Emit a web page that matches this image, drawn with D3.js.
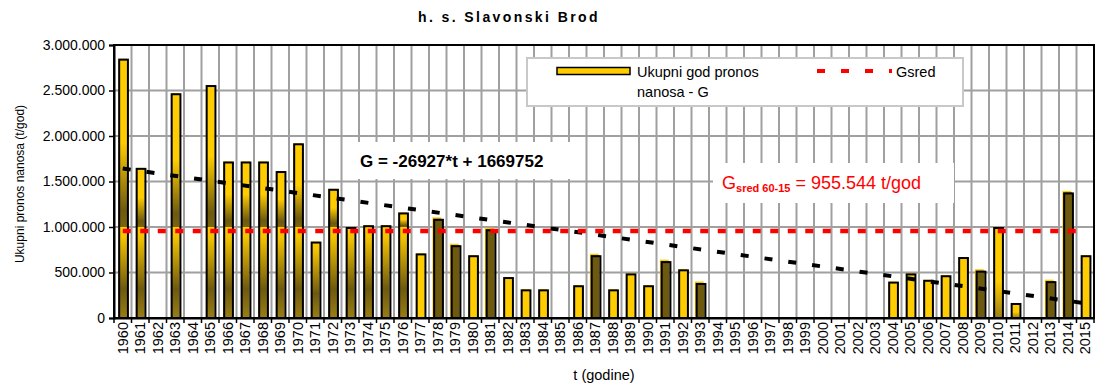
<!DOCTYPE html>
<html>
<head>
<meta charset="utf-8">
<script src="https://cdn.jsdelivr.net/npm/d3@7"></script>
<style>
  body { margin: 0; background: #fff; }
  text { font-family: "Liberation Sans", Arial, sans-serif; }
</style>
</head>
<body>
<svg id="chart" width="1097" height="383"></svg>
<script>
// Annual suspended sediment transport, gauging station Slavonski Brod
const years = ["1960","1961","1962","1963","1964","1965","1966","1967","1968","1969",
               "1970","1971","1972","1973","1974","1975","1976","1977","1978","1979",
               "1980","1981","1982","1983","1984","1985","1986","1987","1988","1989",
               "1990","1991","1992","1993","1994","1995","1996","1997","1998","1999",
               "2000","2001","2002","2003","2004","2005","2006","2007","2008","2009",
               "2010","2011","2012","2013","2014","2015"];

// t/god; null = no measurement that year
const sediment = [2850000, 1650000, null, 2470000, null, 2560000, 1720000, 1720000, 1720000, 1615000,
                  1920000, 840000, 1420000, 1000000, 1020000, 1020000, 1160000, 710000, 1090000, 800000,
                  690000, 975000, 450000, 315000, 315000, null, 360000, 690000, 315000, 490000,
                  360000, 625000, 535000, 385000, null, null, null, null, null, null,
                  null, null, null, null, 400000, 490000, 420000, 470000, 670000, 520000,
                  1000000, 165000, null, 405000, 1380000, 690000];

const yTicks = [0, 500000, 1000000, 1500000, 2000000, 2500000, 3000000];

// Linear trend G = a*t + b, t = 1 for 1960
const trendSlope = -26927;
const trendIntercept = 1669752;
// Mean 1960-2015
const gMean = 955544;

// Fill treatment of the individual columns
const darkCols = new Set(["1978","1979","1981","1987","1991","1993","2009","2013","2014"]);
const shadedCols = new Set(["1960","1961","1963","1965","1966","1967","1968","1969","1970",
                            "1971","1972","1973","1974","1975","1976"]);
const fadeCols = new Set(["2010","2011"]);

const YELLOW = "#ffcc00", BROWN = "#6e5a0e", RED = "#ff0000";

const svg = d3.select("#chart");
const plot = { left: 114, right: 1094, top: 45, bottom: 318 };

const x = d3.scaleBand().domain(years).range([plot.left, plot.right]).padding(0);
const y = d3.scaleLinear().domain([0, 3000000]).range([plot.bottom, plot.top]);

const loc = d3.formatLocale({ decimal: ",", thousands: ".", grouping: [3], currency: ["", ""] });
const fmt = loc.format(",d");

// gradients
const defs = svg.append("defs");
function grad(id, stops) {
  const g = defs.append("linearGradient").attr("id", id)
    .attr("x1", 0).attr("y1", 0).attr("x2", 0).attr("y2", 1);
  stops.forEach(([o, c]) => g.append("stop").attr("offset", o).attr("stop-color", c));
}
grad("gUpper", [[0, YELLOW], [0.5, YELLOW], [0.9, BROWN], [1, "#7a6410"]]);
grad("gLower", [[0, YELLOW], [0.12, "#f2c200"], [0.68, BROWN], [1, "#9a7e14"]]);
grad("gFade", [[0, YELLOW], [0.6, YELLOW], [1, "#9a7e14"]]);

// gridlines
const grid = svg.append("g").attr("stroke", "#a0a0a0").attr("stroke-width", 2);
grid.selectAll("line.h").data(yTicks.slice(1, -1)).join("line")
  .attr("x1", plot.left).attr("x2", plot.right)
  .attr("y1", d => y(d)).attr("y2", d => y(d));
grid.selectAll("line.v").data(years.slice(1)).join("line")
  .attr("x1", d => x(d)).attr("x2", d => x(d))
  .attr("y1", plot.top).attr("y2", plot.bottom);

// plot frame
svg.append("rect")
  .attr("x", plot.left).attr("y", plot.top)
  .attr("width", plot.right - plot.left).attr("height", plot.bottom - plot.top)
  .attr("fill", "none").attr("stroke", "#000").attr("stroke-width", 2);

// columns
const bw = x.bandwidth() * 0.5;
const pts = years.map((yr, i) => ({ yr, v: sediment[i] })).filter(d => d.v != null);
const bars = svg.append("g");
pts.forEach(d => {
  const bx = x(d.yr) + x.bandwidth() * 0.25;
  const top = y(d.v), base = y(0);
  if (shadedCols.has(d.yr)) {
    const split = y(Math.min(d.v, 1000000));
    if (d.v > 1000000) {
      bars.append("rect").attr("x", bx).attr("y", top).attr("width", bw)
        .attr("height", split - top).attr("fill", "url(#gUpper)");
    }
    bars.append("rect").attr("x", bx).attr("y", split).attr("width", bw)
      .attr("height", base - split).attr("fill", "url(#gLower)");
  } else if (darkCols.has(d.yr)) {
    bars.append("rect").attr("x", bx - 1).attr("y", top - 1.5).attr("width", bw)
      .attr("height", base - top).attr("fill", YELLOW);
    bars.append("rect").attr("x", bx).attr("y", top).attr("width", bw)
      .attr("height", base - top).attr("fill", BROWN);
  } else {
    bars.append("rect").attr("x", bx).attr("y", top).attr("width", bw)
      .attr("height", base - top).attr("fill", fadeCols.has(d.yr) ? "url(#gFade)" : YELLOW);
  }
  bars.append("rect").attr("x", bx + 0.8).attr("y", top + 1).attr("width", bw)
    .attr("height", base - top - 1).attr("fill", "none")
    .attr("stroke", "#000").attr("stroke-width", 2);
});

// trend line
const tFirst = 1, tLast = years.length;
const trend = [tFirst, tLast].map(t => ({ yr: years[t - 1], v: trendSlope * t + trendIntercept }));
svg.append("path")
  .attr("d", d3.line().x(d => x(d.yr) + x.bandwidth() / 2).y(d => y(d.v))(trend))
  .attr("fill", "none").attr("stroke", "#000").attr("stroke-width", 4)
  .attr("stroke-dasharray", "8,16");

// mean line
svg.append("line")
  .attr("x1", x(years[0]) + x.bandwidth() / 2).attr("x2", x(years[years.length - 1]) + x.bandwidth() / 2)
  .attr("y1", y(gMean)).attr("y2", y(gMean))
  .attr("stroke", RED).attr("stroke-width", 4.5).attr("stroke-dasharray", "8,9.5");

// y axis
const yAxis = svg.append("g").attr("transform", `translate(${plot.left},0)`)
  .call(d3.axisLeft(y).tickValues(yTicks).tickSize(5).tickPadding(4).tickFormat(fmt));
yAxis.select(".domain").attr("stroke-width", 2);
yAxis.selectAll(".tick line").attr("stroke-width", 1.5);
yAxis.selectAll("text").attr("font-size", 14).attr("fill", "#000")
  .style("font-family", '"Liberation Sans", Arial, sans-serif');

// x axis
const xAxis = svg.append("g").attr("transform", `translate(0,${plot.bottom})`)
  .call(d3.axisBottom(x).tickSize(0).tickPadding(0));
xAxis.select(".domain").attr("stroke-width", 2);
xAxis.selectAll("text")
  .attr("transform", "rotate(-90)")
  .attr("x", -4).attr("y", 0).attr("dy", "0.36em")
  .attr("text-anchor", "end").attr("font-size", 14.5).attr("fill", "#000")
  .style("font-family", '"Liberation Sans", Arial, sans-serif');
svg.append("g").selectAll("line").data(years.concat(["end"])).join("line")
  .attr("x1", d => d === "end" ? plot.right : x(d))
  .attr("x2", d => d === "end" ? plot.right : x(d))
  .attr("y1", plot.bottom).attr("y2", plot.bottom + 5)
  .attr("stroke", "#000").attr("stroke-width", 1.5);

// titles
svg.append("text").attr("x", 509).attr("y", 22).attr("text-anchor", "middle")
  .attr("font-size", 14).attr("font-weight", "bold").attr("letter-spacing", 2.4)
  .text("h. s. Slavonski Brod");
svg.append("text").attr("transform", "translate(24,184) rotate(-90)")
  .attr("text-anchor", "middle").attr("font-size", 12).text("Ukupni pronos nanosa (t/god)");
svg.append("text").attr("x", (plot.left + plot.right) / 2).attr("y", 380)
  .attr("text-anchor", "middle").attr("font-size", 14.5).text("t (godine)");

// legend
const lg = svg.append("g");
lg.append("rect").attr("x", 527).attr("y", 58).attr("width", 436).attr("height", 48)
  .attr("fill", "#fff").attr("stroke", "#c8c8c8").attr("stroke-width", 2);
lg.append("rect").attr("x", 557).attr("y", 67.5).attr("width", 73).attr("height", 7)
  .attr("fill", YELLOW).attr("stroke", "#000").attr("stroke-width", 1.5);
lg.append("text").attr("x", 637).attr("y", 77).attr("font-size", 14.5).text("Ukupni god pronos");
lg.append("text").attr("x", 637).attr("y", 97).attr("font-size", 14.5).text("nanosa - G");
lg.append("line").attr("x1", 817).attr("x2", 892).attr("y1", 71).attr("y2", 71)
  .attr("stroke", RED).attr("stroke-width", 4).attr("stroke-dasharray", "8,16");
lg.append("text").attr("x", 896).attr("y", 77).attr("font-size", 14.5).text("Gsred");

// trend equation label
svg.append("rect").attr("x", 345).attr("y", 142).attr("width", 225).attr("height", 37).attr("fill", "#fff");
svg.append("text").attr("x", 360).attr("y", 167).attr("font-size", 17).attr("font-weight", "bold")
  .text(`G = ${trendSlope}*t + ${trendIntercept}`);

// mean label
svg.append("rect").attr("x", 713).attr("y", 163).attr("width", 241).attr("height", 40).attr("fill", "#fff");
const mt = svg.append("text").attr("x", 722).attr("y", 189).attr("font-size", 18).attr("fill", RED);
mt.append("tspan").text("G");
mt.append("tspan").attr("font-size", 11).attr("font-weight", "bold").attr("dy", 2.5).text("sred 60-15");
mt.append("tspan").attr("dy", -2.5).text(" = " + loc.format(",.3f")(gMean / 1000).replace(",", ".") + " t/god");
</script>
</body>
</html>
